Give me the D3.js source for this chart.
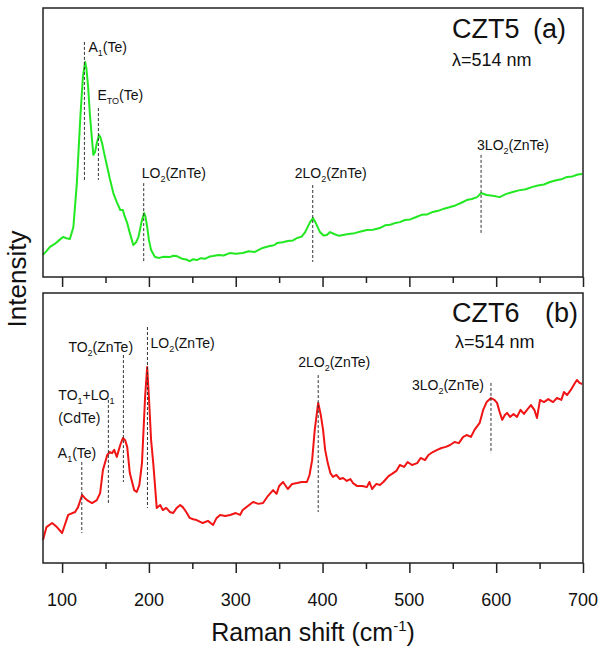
<!DOCTYPE html>
<html>
<head>
<meta charset="utf-8">
<script src="https://cdn.jsdelivr.net/npm/d3@7"></script>
<style>
    body { margin: 0; background: #fff; }
    svg { font-family: "Liberation Sans", Arial, sans-serif; }
</style>
</head>
<body>
<svg></svg>
<script>
const width = 602;
const height = 648;

// Спектр CZT5 (a): [Raman shift, intensity]
const czt5 = [
    [78, 8.2], [82, 9.6], [86, 11.2], [92, 12.4], [97, 13.8], [101, 14.9], [105, 14.4], [109, 14.1],
    [113, 18.6], [117, 34.9], [121, 59.5], [124, 74.5], [126.5, 79.9], [128, 77.5], [130, 70.6],
    [132, 60.5], [134.5, 50.9], [136, 45.4], [138, 46.5], [140, 49.8], [142.5, 52.8], [144, 52.0],
    [146, 49.8], [149, 45.2], [152, 40.9], [155, 36.5], [159, 31.2], [163, 27.8], [167, 24.9],
    [170, 24.9], [172, 22.6], [175, 20.1], [178, 16.4], [182, 11.9], [185, 12.8], [188, 14.9],
    [192, 21.2], [194.5, 23.8], [196, 22.4], [198, 18.6], [200, 13.8], [202.5, 10.0], [207, 7.4],
    [212, 7.1], [217, 7.5], [224, 7.4], [228, 7.9], [232, 7.8], [238, 6.8], [243, 6.5], [247, 5.9],
    [251, 6.6], [255, 6.3], [260, 7.0], [265, 6.8], [270, 7.6], [274, 7.8], [280, 8.2], [286, 8.0],
    [293, 8.9], [300, 8.6], [308, 8.9], [315, 9.6], [322, 9.3], [331, 10.8], [338, 11.4], [344, 11.8],
    [347.6, 12.6], [354, 12.9], [360, 13.4], [366, 13.6], [370.6, 14.5], [376, 15.0], [380, 16.7],
    [385.6, 20.4], [389, 21.9], [392, 20.2], [397, 16.7], [401, 15.4], [405, 15.6], [408.6, 16.7],
    [414, 15.9], [419, 15.3], [423.6, 15.6], [430, 16.0], [437, 16.3], [444, 16.9], [451, 17.5],
    [458, 17.6], [466, 18.2], [472, 19.2], [478, 19.4], [484, 20.1], [489, 20.4], [495, 21.2],
    [501, 21.4], [508, 22.3], [514, 23.1], [520, 23.2], [527, 24.2], [533, 24.6], [540, 25.4],
    [547, 26.0], [553, 26.6], [560, 27.6], [566, 28.6], [572, 29.0], [578, 29.7], [582.5, 31.2],
    [589, 30.5], [596, 30.2], [604, 29.7], [611, 30.8], [619, 31.6], [626, 32.2], [634, 32.6],
    [642, 33.5], [648, 34.0], [655, 34.4], [662, 35.3], [668, 35.9], [675, 36.3], [681.6, 37.2],
    [688, 37.4], [694, 38.1], [699, 38.3]
];

// Спектр CZT6 (b)
const czt6 = [
    [78, 8.5], [82, 13.3], [88.5, 14.8], [94, 13.3], [100, 11.1], [107, 17.8], [115, 18.9],
    [118.4, 20.7], [123, 25.2], [126, 24.1], [130, 23.0], [134.5, 22.2], [140, 23.3], [143.8, 25.9],
    [147, 34.4], [152, 40.0], [155, 41.1], [157.6, 40.7], [160, 41.9], [163, 39.3], [167, 43.7],
    [170, 46.3], [172.5, 45.6], [175, 43.0], [178, 33.3], [183, 27.0], [186, 26.3], [189, 28.9],
    [192, 37.0], [195.6, 61.5], [198, 72.6], [200, 61.5], [202.5, 45.6], [205, 37.0], [209, 20.4],
    [213, 21.5], [216, 19.6], [220, 20.4], [224, 18.9], [228, 18.5], [232, 20.4], [236, 21.5],
    [239, 20.7], [243, 18.9], [247, 16.7], [251, 16.2], [255, 15.9], [262, 14.8], [268, 15.6],
    [274, 14.1], [278, 16.7], [282, 17.8], [288, 17.4], [293.5, 17.8], [300, 18.5], [305, 17.8],
    [308, 19.6], [314, 21.1], [320, 22.6], [326, 21.9], [331.5, 22.2], [337, 24.8], [343, 27.0],
    [347, 25.6], [350, 28.5], [354.5, 30.0], [360, 27.4], [365, 29.3], [370.6, 29.6], [376, 30.0],
    [382, 30.0], [385, 32.6], [388, 38.1], [391, 49.3], [395, 59.3], [398, 54.8], [400.6, 49.3],
    [403, 41.9], [406, 37.0], [409, 33.3], [412, 31.9], [416, 32.6], [420, 31.1], [423.6, 31.5],
    [428, 30.4], [432, 31.1], [435, 29.6], [440, 28.5], [446, 28.5], [451, 28.1], [454, 30.0],
    [457, 27.4], [462, 29.3], [466, 28.9], [470, 30.0], [476, 32.2], [480, 33.0], [485, 34.1],
    [489, 36.3], [494, 35.6], [498, 37.4], [503, 36.3], [509, 37.0], [513, 38.9], [518, 38.1],
    [522, 40.0], [527, 41.1], [532, 41.9], [537, 42.6], [542, 43.0], [547, 43.7], [552, 44.8],
    [557, 44.4], [562, 46.7], [566, 47.4], [571, 46.7], [575, 49.3], [581, 51.9], [585, 56.7],
    [589, 59.6], [594, 61.1], [598, 60.4], [601, 59.3], [604, 55.9], [607, 53.0], [610, 54.8],
    [612.5, 55.6], [616, 54.1], [620, 55.2], [624, 54.1], [628, 56.7], [632, 55.2], [635.5, 56.7],
    [640, 58.5], [644, 56.7], [647, 53.7], [650.5, 60.4], [655, 59.6], [660, 60.7], [665.5, 59.6],
    [670, 61.1], [675, 60.4], [678, 63.3], [681.6, 62.2], [686, 64.1], [690, 66.3], [693, 67.8],
    [696, 66.7], [699, 66.3]
];

// Пики: [название, индекс, хвост, положение (cm-1), верх линии, низ линии]
const peaksA = [
    ["A", "1", "(Te)", 125.7, 87.4, 36.1],
    ["E", "TO", "(Te)", 141.8, 62.8, 36.1],
    ["LO", "2", "(ZnTe)", 194, 34.9, 5.6],
    ["2LO", "2", "(ZnTe)", 388.7, 34.2, 5.6],
    ["3LO", "2", "(ZnTe)", 582.6, 45.4, 16.4]
];
const peaksB = [
    ["A", "1", "(Te)", 122.7, 37.4, 11.1],
    ["TO", "1", "+LO", 153.3, 60.4, 21.5],
    ["TO", "2", "(ZnTe)", 170.6, 77.0, 30.0],
    ["LO", "2", "(ZnTe)", 198.3, 87.4, 20.4],
    ["2LO", "2", "(ZnTe)", 395, 69.6, 18.9],
    ["3LO", "2", "(ZnTe)", 594, 66.7, 40.7]
];

const xTicks = [100, 200, 300, 400, 500, 600, 700];
const xMinorTicks = [150, 250, 350, 450, 550, 650];

let svg = d3.select("svg")
    .attr("width", width)
    .attr("height", height);

const left = 43, right = 583;
let scaleX = d3.scaleLinear().domain([78, 700]).range([left, right]);

// смещения подписей относительно линии: [dx, baseline y]
const labelPosA = [[4, 52], [-1, 100], [-2, 178], [-18, 178], [-4, 150]];
const labelPosB = [[-24, 458], [-50, 400], [-55, 352], [3, 348], [-20, 367], [-79, 390]];

function drawPanel(data, peaks, labelPos, top, bottom, color, name, letter, nameY, lambdaY, lambdaX, letterX) {
    let scaleY = d3.scaleLinear().domain([0, 100]).range([bottom, top]);

    let line = d3.line()
        .x(d => scaleX(d[0]))
        .y(d => scaleY(d[1]));

    svg.append("path")
        .datum(data)
        .attr("d", line)
        .attr("fill", "none")
        .attr("stroke", color)
        .attr("stroke-width", 2)
        .attr("stroke-linejoin", "round");

    svg.append("rect")
        .attr("x", left).attr("y", top)
        .attr("width", right - left).attr("height", bottom - top)
        .attr("fill", "none")
        .attr("stroke", "#222")
        .attr("stroke-width", 1.5);

    let axis = svg.append("g")
        .attr("transform", `translate(0, ${bottom})`)
        .call(d3.axisBottom(scaleX).tickValues(xTicks).tickSize(10).tickFormat(""));
    axis.select(".domain").remove();
    axis.selectAll("line").attr("stroke", "#222").attr("stroke-width", 1.5);

    let minor = svg.append("g")
        .attr("transform", `translate(0, ${bottom})`)
        .call(d3.axisBottom(scaleX).tickValues(xMinorTicks).tickSize(6).tickFormat(""));
    minor.select(".domain").remove();
    minor.selectAll("line").attr("stroke", "#222").attr("stroke-width", 1.5);

    peaks.forEach((p, i) => {
        let px = scaleX(p[3]);
        svg.append("line")
            .attr("x1", px).attr("x2", px)
            .attr("y1", scaleY(p[4])).attr("y2", scaleY(p[5]))
            .attr("stroke", "#333")
            .attr("stroke-width", 1)
            .attr("stroke-dasharray", "3,2");

        let t = svg.append("text")
            .attr("x", px + labelPos[i][0])
            .attr("y", labelPos[i][1])
            .attr("font-size", 14)
            .attr("fill", "#111");
        t.append("tspan").text(p[0]);
        t.append("tspan").attr("font-size", 9).attr("dy", 4).text(p[1]);
        t.append("tspan").attr("dy", -4).text(p[2]);
        if (p[2] === "+LO") {
            t.append("tspan").attr("font-size", 9).attr("dy", 4).text("1");
            svg.append("text")
                .attr("x", px + labelPos[i][0])
                .attr("y", labelPos[i][1] + 23)
                .attr("font-size", 14)
                .attr("fill", "#111")
                .text("(CdTe)");
        }
    });

    svg.append("text")
        .attr("x", 452).attr("y", nameY)
        .attr("font-size", 27)
        .attr("fill", "#111")
        .text(name);
    svg.append("text")
        .attr("x", letterX).attr("y", nameY)
        .attr("font-size", 27)
        .attr("fill", "#111")
        .text(letter);
    svg.append("text")
        .attr("x", lambdaX).attr("y", lambdaY)
        .attr("font-size", 18)
        .attr("fill", "#111")
        .text("λ=514 nm");
}

drawPanel(czt5, peaksA, labelPosA, 8, 277, "#22e822", "CZT5", "(a)", 38, 66, 452, 533);
drawPanel(czt6, peaksB, labelPosB, 293, 563, "#f01414", "CZT6", "(b)", 322, 348, 455, 545);

// подписи оси X
svg.append("g")
    .selectAll("text")
    .data(xTicks)
    .enter()
    .append("text")
    .attr("x", d => scaleX(d))
    .attr("y", 606)
    .attr("text-anchor", "middle")
    .attr("font-size", 18)
    .attr("fill", "#111")
    .text(d => d);

let title = svg.append("text")
    .attr("x", 313)
    .attr("y", 641)
    .attr("text-anchor", "middle")
    .attr("font-size", 25)
    .attr("fill", "#111");
title.append("tspan").text("Raman shift (cm");
title.append("tspan").attr("font-size", 15).attr("dy", -10).text("-1");
title.append("tspan").attr("dy", 10).text(")");

svg.append("text")
    .attr("transform", "translate(26, 279) rotate(-90)")
    .attr("text-anchor", "middle")
    .attr("font-size", 26)
    .attr("fill", "#111")
    .text("Intensity");
</script>
</body>
</html>
